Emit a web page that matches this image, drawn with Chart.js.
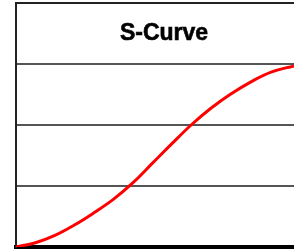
<!DOCTYPE html>
<html>
<head>
<meta charset="utf-8">
<script src="https://cdn.jsdelivr.net/npm/chart.js@4/dist/chart.umd.min.js"></script>
<style>
  html, body { margin:0; padding:0; background:#fff; overflow:hidden; }
  #wrap { width:294px; height:249px; }
</style>
</head>
<body>
<div id="wrap"><canvas id="scurve"></canvas></div>
<script>
// values
var xs = [0, 7, 14, 21, 28, 35, 42, 49, 56, 63, 70, 77, 85, 92, 100];
var ys = [0, 0.07, 0.19, 0.36, 0.56, 0.78, 1.05, 1.37, 1.69, 2.0, 2.27, 2.5, 2.72, 2.87, 2.97];
var chartTitle = 'S-Curve';

var pts = [];
for (var i = 0; i < xs.length; i++) {
  pts.push({x: xs[i], y: ys[i]});
}

// title sits inside the top band of the plot
var innerTitle = {
  id: 'innerTitle',
  afterDraw: function(chart) {
    var ctx = chart.ctx, a = chart.chartArea;
    ctx.save();
    ctx.fillStyle = '#000';
    ctx.strokeStyle = '#000';
    ctx.lineWidth = 0.6;
    ctx.font = 'bold 23px "Liberation Sans", Arial, sans-serif';
    ctx.textAlign = 'center';
    ctx.textBaseline = 'alphabetic';
    ctx.fillText(chartTitle, a.left + 148, a.top + 37);
    ctx.strokeText(chartTitle, a.left + 148, a.top + 37);
    ctx.restore();
  }
};

var ctx = document.getElementById('scurve');
var chart = new Chart(ctx, {
  type: 'line',
  data: {
    datasets: [{
      data: pts,
      borderColor: '#ff0000',
      borderWidth: 3,
      pointRadius: 0,
      fill: false,
      tension: 0.4
    }]
  },
  options: {
    responsive: true,
    maintainAspectRatio: false,
    animation: false,
    layout: { padding: { left: 16, top: 3, right: 0, bottom: 2 } },
    plugins: { legend: { display: false }, title: { display: false }, tooltip: { enabled: false } },
    scales: {
      x: {
        type: 'linear',
        min: 0,
        max: 100,
        ticks: { display: false },
        grid: { display: false, drawTicks: false },
        border: { display: true, color: '#000', width: 5 }
      },
      y: {
        min: 0,
        max: 4,
        ticks: { display: false, stepSize: 1 },
        grid: {
          drawTicks: false,
          color: function(c) { return c.tick && c.tick.value == 4 ? '#222' : '#555'; },
          lineWidth: 2
        },
        border: { display: true, color: '#222', width: 2 }
      }
    }
  },
  plugins: [innerTitle]
});
</script>
</body>
</html>
